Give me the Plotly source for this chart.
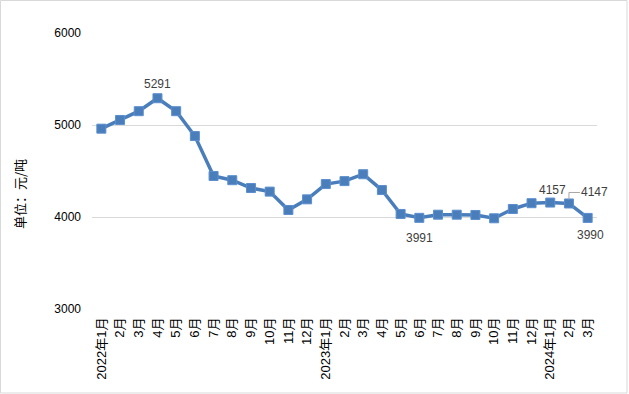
import plotly.graph_objects as go

categories = ["2022年1月", "2022年2月", "2022年3月", "2022年4月", "2022年5月", "2022年6月",
              "2022年7月", "2022年8月", "2022年9月", "2022年10月", "2022年11月", "2022年12月",
              "2023年1月", "2023年2月", "2023年3月", "2023年4月", "2023年5月", "2023年6月",
              "2023年7月", "2023年8月", "2023年9月", "2023年10月", "2023年11月", "2023年12月",
              "2024年1月", "2024年2月", "2024年3月"]
tick_labels = ["2022年1月", "2月", "3月", "4月", "5月", "6月", "7月", "8月", "9月", "10月", "11月", "12月",
               "2023年1月", "2月", "3月", "4月", "5月", "6月", "7月", "8月", "9月", "10月", "11月", "12月",
               "2024年1月", "2月", "3月"]
values = [4960, 5055, 5150, 5291, 5150, 4880, 4446, 4400, 4315, 4276, 4076, 4192,
          4358, 4390, 4465, 4293, 4033, 3991, 4025, 4025, 4022, 3986, 4087, 4150,
          4157, 4147, 3990]
y_ticks = [3000, 4000, 5000, 6000]

BLUE = "#4a7ebb"
LABEL = "#404040"
FONT = "Liberation Sans, Noto Sans CJK SC, sans-serif"
CJK = "Noto Sans CJK SC, sans-serif"

fig = go.Figure()
fig.add_trace(go.Scatter(
    x=categories, y=values, mode="lines+markers",
    line=dict(color=BLUE, width=3.5),
    marker=dict(symbol="square", size=9, color=BLUE, line=dict(color="#5b8fd0", width=1)),
    hoverinfo="skip", showlegend=False,
))

# data labels: (index, x pixel shift, y pixel shift)
label_spec = [(3, 0, 14), (17, 0, -20), (24, 2, 13), (25, 26, 11), (26, 3, -17)]
for i, dx, dy in label_spec:
    fig.add_annotation(x=categories[i], y=values[i], text=str(values[i]), showarrow=False,
                       xshift=dx, yshift=dy, font=dict(size=12, color=LABEL, family=FONT))

# leader line for 2024年2月 label
fig.add_shape(type="path", xref="x", yref="y", xsizemode="pixel", ysizemode="pixel",
              xanchor=categories[25], yanchor=values[25],
              path="M 0,4 L 0,11 L 11,11", line=dict(color="#a6a6a6", width=1))

fig.add_annotation(text="单位：元/吨", textangle=-90, xref="paper", yref="paper",
                   x=-0.1426, y=0.4167, showarrow=False, xanchor="center", yanchor="middle",
                   font=dict(size=13, color="#000000", family=CJK))

# chart border
fig.add_shape(type="rect", xref="paper", yref="paper",
              x0=-91.5 / 505, x1=(627 - 92) / 505, y0=-(393 - 309) / 276, y1=(309 - 0.5) / 276,
              line=dict(color="#d9d9d9", width=1), fillcolor="rgba(0,0,0,0)")

fig.update_layout(
    width=629, height=394,
    margin=dict(l=92, r=32, t=33, b=85),
    paper_bgcolor="white", plot_bgcolor="white",
    font=dict(family=FONT, size=12, color="#000000"),
    xaxis=dict(type="category", tickmode="array", tickvals=categories, ticktext=tick_labels,
               tickangle=-90, range=[-0.5, len(categories) - 0.5], showgrid=False,
               showline=False, zeroline=False, ticks="", ticklabelstandoff=5,
               tickfont=dict(size=13, color="#000000", family=FONT)),
    yaxis=dict(range=[3000, 6000], tickvals=y_ticks, showgrid=True, gridcolor="#d9d9d9",
               gridwidth=1, zeroline=False, showline=False, ticks="", ticklabelstandoff=10,
               tickfont=dict(size=12, color="#000000", family=FONT)),
)

fig.write_html("out.html", config={"displayModeBar": False},
               post_script="document.body.style.margin='0';")
